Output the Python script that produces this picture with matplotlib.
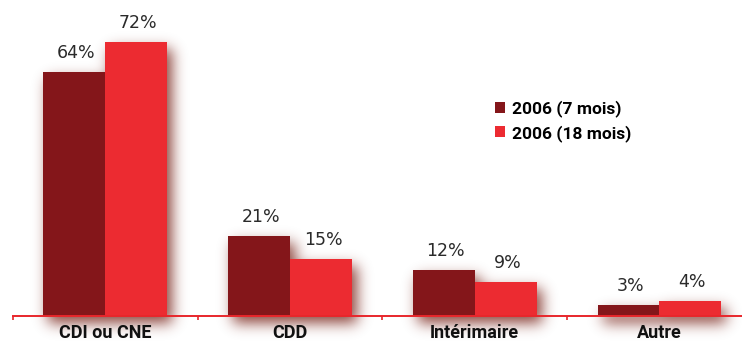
import matplotlib
matplotlib.use("Agg")
import matplotlib.pyplot as plt
import numpy as np

categories = ["CDI ou CNE", "CDD", "Intérimaire", "Autre"]
series_names = ["2006 (7 mois)", "2006 (18 mois)"]
values_7 = [64, 21, 12, 3]
values_18 = [72, 15, 9, 4]

dark = "#84161a"
red = "#ec2b31"
shadow_rgb = np.array([120, 35, 25]) / 255.0
axis_red = "#e8262b"

W, H = 742, 342
fig = plt.figure(figsize=(W / 100, H / 100), dpi=100, facecolor="white")
left_px, base_px = 13, 26
ax = fig.add_axes([left_px / W, base_px / H, 1 - left_px / W, 1 - base_px / H])
ax.set_xlim(0, (W - left_px) / 184.7)
ax.set_ylim(0, 316 / 3.806)
ax.patch.set_visible(False)

bold_font = dict(family=["Roboto", "DejaVu Sans"], weight="bold")

width = 0.335
centers = np.arange(len(categories)) + 0.5
x7 = centers - width / 2
x18 = centers + width / 2

bars7 = ax.bar(x7, values_7, width=width, color=dark, zorder=3, label=series_names[0])
bars18 = ax.bar(x18, values_18, width=width, color=red, zorder=3, label=series_names[1])

# soft drop shadow: rasterise the bar footprints, shift and blur them
mask = np.zeros((H, W))
dx, dy = 5, 7
for rect in list(bars7) + list(bars18):
    (px0, py0), (px1, py1) = ax.transData.transform(
        [(rect.get_x(), 0), (rect.get_x() + rect.get_width(), rect.get_height())])
    c0, c1 = int(round(px0)) + dx, int(round(px1)) + dx
    r0, r1 = int(round(H - py1)) + dy, int(round(H - py0)) + dy
    mask[max(r0, 0):min(r1, H), max(c0, 0):min(c1, W)] = 1.0

sigma = 7.0
k = np.arange(-3 * int(sigma) - 1, 3 * int(sigma) + 2)
g = np.exp(-0.5 * (k / sigma) ** 2)
g /= g.sum()
blur = np.apply_along_axis(lambda r: np.convolve(r, g, mode="same"), 1, mask)
blur = np.apply_along_axis(lambda c: np.convolve(c, g, mode="same"), 0, blur)
img = np.zeros((H, W, 4))
img[..., :3] = shadow_rgb
img[..., 3] = np.clip(blur * 0.85, 0, 1)
fig.figimage(img, xo=0, yo=0, origin="upper", zorder=-1)

for xs, vals in ((x7, values_7), (x18, values_18)):
    for xc, v in zip(xs, vals):
        ax.text(xc + 2 / 184.7, v + 14 / 3.806, f"{v}%", ha="center", va="baseline",
                fontsize=12.5, color="#2a2a2a", family="DejaVu Sans", zorder=4)

for s in ("top", "right", "left"):
    ax.spines[s].set_visible(False)
ax.spines["bottom"].set_color(axis_red)
ax.spines["bottom"].set_linewidth(1.4)
ax.spines["bottom"].set_zorder(5)
ax.set_yticks([])
ax.set_xticks(np.arange(0, 4))
ax.set_xticklabels([])
ax.tick_params(axis="x", length=3, width=1.2, color=axis_red, direction="out")
ax.set_xticks(centers, minor=True)
ax.set_xticklabels(categories, minor=True, fontsize=13, color="#111111", **bold_font)
ax.tick_params(axis="x", which="minor", length=0, pad=5.5)

ax.legend(loc="upper left", bbox_to_anchor=((488 - left_px) / (W - left_px), 1 - 93 / 316),
          frameon=False, prop=dict(size=12.5, **bold_font), handlelength=0.6, handleheight=0.6,
          handletextpad=0.4, labelspacing=0.45, borderaxespad=0)

fig.savefig("out.png", dpi=100, facecolor="white")
